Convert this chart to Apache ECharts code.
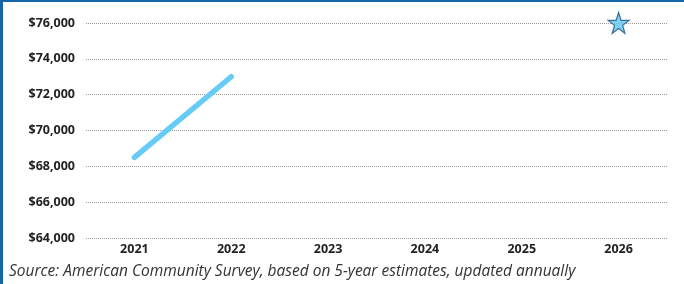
<!DOCTYPE html>
<html>
<head>
<meta charset="utf-8">
<script src="https://cdn.jsdelivr.net/npm/echarts@6/dist/echarts.min.js"></script>
<style>
  html, body { margin: 0; padding: 0; background: #fff; }
  #wrap { width: 681px; height: 282px; border-left: 3px solid #1466a8; border-top: 2px solid #1466a8; position: relative; }
  #chart { width: 681px; height: 282px; }
</style>
</head>
<body>
<div id="wrap"><div id="chart"></div></div>
<script>
  // data
  var years = ['2021', '2022', '2023', '2024', '2025', '2026'];
  var income = [68500, 73000, null, null, null, null];
  var target = [null, null, null, null, null, 76000];
  var source = 'Source: American Community Survey, based on 5-year estimates, updated annually';

  var myChart = echarts.init(document.getElementById('chart'));
  var option = {
    animation: false,
    grid: { left: 83, right: 17, top: 21, bottom: 46 },
    graphic: [{
      type: 'text', left: 6, top: 262,
      style: { text: source, font: 'italic 15.5px "Open Sans"', fill: '#333' }
    }],
    xAxis: {
      type: 'category',
      data: years,
      boundaryGap: true,
      axisLine: { show: false },
      axisTick: { show: false },
      axisLabel: { color: '#222', fontWeight: 'bold', fontSize: 12.5, fontFamily: 'Open Sans', margin: 5 }
    },
    yAxis: {
      type: 'value',
      min: 64000, max: 76000, interval: 2000,
      axisLabel: {
        color: '#222', fontWeight: 'bold', fontSize: 12.5, fontFamily: 'Open Sans', margin: 11,
        formatter: function (v) { return '$' + v.toLocaleString('en-US'); }
      },
      splitLine: { lineStyle: { type: 'dotted', color: '#999', width: 1 } }
    },
    series: [
      {
        type: 'line', data: income, symbol: 'none',
        lineStyle: { color: '#66ccf5', width: 5.5, cap: 'round' }
      },
      {
        type: 'scatter', data: target, symbol: 'path://M50,5 L61,38 L96,38 L68,59 L78,93 L50,72 L22,93 L32,59 L4,38 L39,38 Z',
        symbolSize: 21,
        itemStyle: { color: '#5fc6f2', borderColor: '#1d4f7a', borderWidth: 1.2 }
      }
    ]
  };
  myChart.setOption(option);
</script>
</body>
</html>
